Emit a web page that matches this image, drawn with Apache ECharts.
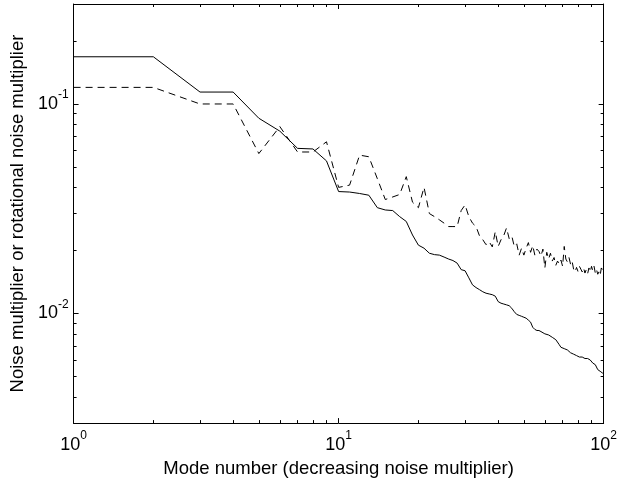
<!DOCTYPE html>
<html>
<head>
<meta charset="utf-8">
<script src="https://cdn.jsdelivr.net/npm/echarts@6/dist/echarts.min.js"></script>
<style>
  html, body { margin: 0; padding: 0; background: #fff; }
  #chart { width: 620px; height: 483px; }
</style>
</head>
<body>
<div id="chart"></div>
<script>
// mode numbers (x) and the two curves
const modes = [
  1, 2, 3, 4, 5, 6, 7, 8, 9, 10, 11, 12, 13, 14, 15, 16, 17, 18, 19, 20,
  21, 22, 23, 24, 25, 26, 27, 28, 29, 30, 31, 32, 33, 34, 35, 36, 37, 38, 39, 40,
  41, 42, 43, 44, 45, 46, 47, 48, 49, 50, 51, 52, 53, 54, 55, 56, 57, 58, 59, 60,
  61, 62, 63, 64, 65, 66, 67, 68, 69, 70, 71, 72, 73, 74, 75, 76, 77, 78, 79, 80,
  81, 82, 83, 84, 85, 86, 87, 88, 89, 90, 91, 92, 93, 94, 95, 96, 97, 98, 99, 100
];

// solid: noise multiplier
const noiseMult = [
  0.168, 0.168, 0.114, 0.114, 0.0855, 0.0742, 0.0614, 0.061, 0.0535, 0.0382,
  0.038, 0.0374, 0.0367, 0.032, 0.0312, 0.031, 0.029, 0.0275, 0.0237, 0.0212,
  0.0205, 0.0194, 0.0191, 0.019, 0.0186, 0.0182, 0.0179, 0.0174, 0.0162, 0.016,
  0.0148, 0.0137, 0.0133, 0.013, 0.0127, 0.0125, 0.0124, 0.0123, 0.0121, 0.0114,
  0.0112, 0.0111, 0.011, 0.0109, 0.0106, 0.0102, 0.0099, 0.0098, 0.0097, 0.0096,
  0.0095, 0.0093, 0.0091, 0.0086, 0.0084, 0.0083, 0.0083, 0.0082, 0.0081, 0.008,
  0.008, 0.0079, 0.0078, 0.0077, 0.0076, 0.0075, 0.0074, 0.0071, 0.0069, 0.0068,
  0.0068, 0.0068, 0.0067, 0.0066, 0.0065, 0.0065, 0.0064, 0.0064, 0.0063, 0.0063,
  0.0062, 0.0062, 0.0062, 0.0061, 0.0061, 0.0061, 0.0061, 0.006, 0.006, 0.0059,
  0.0058, 0.0058, 0.0057, 0.0056, 0.0054, 0.0053, 0.0053, 0.0052, 0.0052, 0.0052
];

// dashed: rotational noise multiplier
const rotNoiseMult = [
  0.12, 0.12, 0.10, 0.10, 0.058, 0.078, 0.059, 0.059, 0.066, 0.040,
  0.041, 0.057, 0.056, 0.044, 0.035, 0.036, 0.037, 0.045, 0.034, 0.032,
  0.040, 0.030, 0.029, 0.028, 0.027, 0.026, 0.026, 0.026, 0.031, 0.033,
  0.029, 0.027, 0.026, 0.0235, 0.0225, 0.0213, 0.022, 0.0208, 0.0246, 0.0209,
  0.0225, 0.0236, 0.0256, 0.0228, 0.0235, 0.0209, 0.0215, 0.019, 0.0205, 0.019,
  0.0205, 0.0218, 0.0196, 0.0211, 0.019, 0.0203, 0.0198, 0.0188, 0.0203, 0.0165,
  0.0196, 0.0182, 0.0194, 0.0178, 0.0185, 0.017, 0.0178, 0.0172, 0.018, 0.0168,
  0.0209, 0.0182, 0.0176, 0.0185, 0.0172, 0.0178, 0.0163, 0.0158, 0.0166, 0.0159,
  0.0168, 0.0163, 0.0158, 0.0165, 0.0156, 0.0162, 0.0155, 0.0165, 0.0158, 0.0168,
  0.016, 0.0168, 0.0156, 0.0162, 0.0154, 0.0158, 0.0152, 0.0165, 0.0158, 0.0167
];

const xMajor = [1, 10, 100];
const xMinor = [2, 3, 4, 5, 6, 7, 8, 9, 20, 30, 40, 50, 60, 70, 80, 90];
const yMajor = [0.01, 0.1];
const yMinor = [0.003, 0.004, 0.005, 0.006, 0.007, 0.008, 0.009,
  0.02, 0.03, 0.04, 0.05, 0.06, 0.07, 0.08, 0.09, 0.2, 0.3];

const FONT = '"Liberation Sans", Arial, Helvetica, sans-serif';

const powLabel = v => '{b|10}{s|' + Math.round(Math.log10(v)) + '}';

const tickAxis = (extra, ticks, len, showLine) => Object.assign({
  type: 'log',
  logBase: 10,
  splitLine: { show: false },
  axisLine: { show: showLine, lineStyle: { color: '#000', width: 1 } },
  axisTick: { show: true, inside: true, length: len, customValues: ticks, lineStyle: { color: '#000', width: 1 } },
  axisLabel: { show: false }
}, extra);

const xBase = { min: 1, max: 100 };
const yBase = { min: 0.003, max: 0.3 };

const chart = echarts.init(document.getElementById('chart'));

chart.setOption({
  animation: false,
  backgroundColor: '#fff',
  grid: { left: 72, right: 16, top: 4, bottom: 58, containLabel: false },
  xAxis: [
    Object.assign(tickAxis(Object.assign({ position: 'bottom' }, xBase), xMajor, 5, true), {
      name: 'Mode number (decreasing noise multiplier)',
      nameLocation: 'middle',
      nameGap: 29,
      nameTextStyle: { fontFamily: FONT, fontSize: 18.5, color: '#000' },
      axisLabel: {
        show: true,
        customValues: xMajor,
        margin: 7,
        formatter: powLabel,
        rich: {
          b: { fontFamily: FONT, fontSize: 18, color: '#000', lineHeight: 30 },
          s: { fontFamily: FONT, fontSize: 12, color: '#000', lineHeight: 11, verticalAlign: 'top' }
        }
      }
    }),
    tickAxis(Object.assign({ position: 'bottom' }, xBase), xMinor, 3, false),
    tickAxis(Object.assign({ position: 'top' }, xBase), xMajor, 5, true),
    tickAxis(Object.assign({ position: 'top' }, xBase), xMinor, 3, false)
  ],
  yAxis: [
    Object.assign(tickAxis(Object.assign({ position: 'left' }, yBase), yMajor, 5, true), {
      name: 'Noise multiplier or rotational noise multiplier',
      nameLocation: 'middle',
      nameGap: 46,
      nameTextStyle: { fontFamily: FONT, fontSize: 18.5, color: '#000' },
      axisLabel: {
        show: true,
        customValues: yMajor,
        margin: 5,
        formatter: powLabel,
        rich: {
          b: { fontFamily: FONT, fontSize: 18, color: '#000', lineHeight: 30 },
          s: { fontFamily: FONT, fontSize: 12, color: '#000', lineHeight: 4, verticalAlign: 'top' }
        }
      }
    }),
    tickAxis(Object.assign({ position: 'left' }, yBase), yMinor, 3, false),
    tickAxis(Object.assign({ position: 'right' }, yBase), yMajor, 5, true),
    tickAxis(Object.assign({ position: 'right' }, yBase), yMinor, 3, false)
  ],
  series: [
    {
      name: 'Noise multiplier',
      type: 'line',
      xAxisIndex: 0,
      yAxisIndex: 0,
      symbol: 'none',
      data: modes.map((m, i) => [m, noiseMult[i]]),
      lineStyle: { color: '#000', width: 1 }
    },
    {
      name: 'Rotational noise multiplier',
      type: 'line',
      xAxisIndex: 0,
      yAxisIndex: 0,
      symbol: 'none',
      data: modes.map((m, i) => [m, rotNoiseMult[i]]),
      lineStyle: { color: '#000', width: 1, type: [7, 5] }
    }
  ]
});
</script>
</body>
</html>
